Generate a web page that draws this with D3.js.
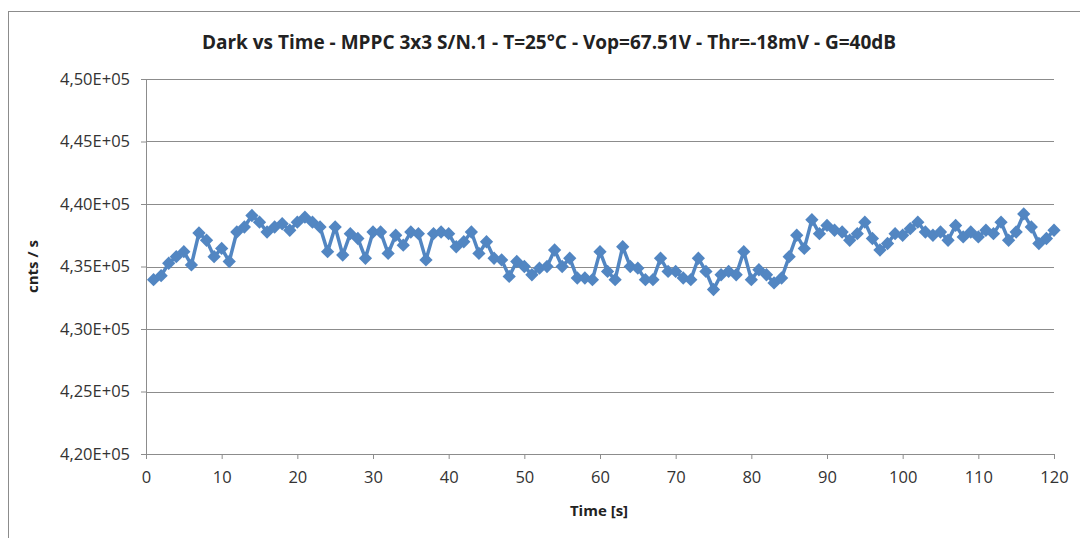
<!DOCTYPE html>
<html>
<head>
<meta charset="utf-8">
<script src="https://cdn.jsdelivr.net/npm/d3@7"></script>
<style>
  body { margin: 0; background: #fff; }
  svg text { font-family: "Open Sans", sans-serif; fill: #222; }
  .title { font-weight: bold; font-size: 19px; }
  .axis-title { font-weight: bold; font-size: 15px; }
  .tick text { font-size: 16.5px; fill: #333; }
</style>
</head>
<body>
<div id="chart"></div>
<script>
var titleText = "Dark vs Time - MPPC 3x3 S/N.1 - T=25°C - Vop=67.51V - Thr=-18mV - G=40dB";
var xLabel = "Time [s]";
var yLabel = "cnts / s";

// time in seconds
var time = d3.range(1, 121);

// dark counts per second
var counts = [
  433950, 434270, 435260, 435790, 436190, 435130, 437680, 437100, 435790, 436450,
  435400, 437760, 438160, 439080, 438550, 437760, 438160, 438420, 437900, 438550,
  438950, 438550, 438160, 436190, 438160, 435920, 437630, 437240, 435660, 437760,
  437760, 436050, 437500, 436710, 437760, 437630, 435530, 437630, 437760, 437630,
  436580, 436980, 437760, 436050, 436980, 435660, 435530, 434210, 435400, 435000,
  434340, 434870, 435000, 436320, 435000, 435660, 434080, 434080, 433950, 436190,
  434610, 433950, 436580, 435000, 434870, 433950, 433950, 435660, 434610, 434610,
  434080, 433950, 435660, 434610, 433160, 434340, 434610, 434340, 436190, 433950,
  434740, 434340, 433690, 434080, 435790, 437500, 436450, 438740, 437630, 438290,
  437900, 437760, 437100, 437630, 438550, 437240, 436320, 436840, 437630, 437500,
  438030, 438550, 437760, 437500, 437760, 437100, 438290, 437370, 437760, 437370,
  437900, 437630, 438550, 437100, 437760, 439210, 438160, 436840, 437240, 437900
];

var yTicks = [420000, 425000, 430000, 435000, 440000, 445000, 450000];
var xTicks = [0, 10, 20, 30, 40, 50, 60, 70, 80, 90, 100, 110, 120];

var W = 1080, H = 538;
var margin = { top: 79, right: 26, bottom: 84, left: 146 };
var width = W - margin.left - margin.right;
var height = H - margin.top - margin.bottom;

var svg = d3.select("#chart").append("svg")
  .attr("width", W)
  .attr("height", H);

// chart frame
svg.append("rect")
  .attr("x", 8.5).attr("y", 11.5)
  .attr("width", W + 10).attr("height", H + 10)
  .attr("fill", "none")
  .attr("stroke", "#8c8c8c");

svg.append("text")
  .attr("class", "title")
  .attr("x", 549).attr("y", 49)
  .attr("text-anchor", "middle")
  .text(titleText);

var g = svg.append("g")
  .attr("transform", "translate(" + margin.left + "," + margin.top + ")");

var x = d3.scaleLinear().domain([0, 120]).range([0, width]);
var y = d3.scaleLinear().domain([420000, 450000]).range([height, 0]);

var fmtY = function(d) {
  return d3.format(".2e")(d).replace(".", ",").replace("e+", "E+0");
};

// gridlines
g.append("g")
  .selectAll("line")
  .data(yTicks.slice(1))
  .enter().append("line")
  .attr("x1", 0).attr("x2", width)
  .attr("y1", function(d) { return Math.round(y(d)) + 0.5; })
  .attr("y2", function(d) { return Math.round(y(d)) + 0.5; })
  .attr("stroke", "#8c8c8c");

var yAxis = g.append("g")
  .call(d3.axisLeft(y).tickValues(yTicks).tickFormat(fmtY).tickSize(5).tickPadding(11));

var xAxis = g.append("g")
  .attr("transform", "translate(0," + height + ")")
  .call(d3.axisBottom(x).tickValues(xTicks).tickSize(5).tickPadding(12));

[yAxis, xAxis].forEach(function(a) {
  a.select(".domain").attr("stroke", "#8c8c8c");
  a.selectAll(".tick line").attr("stroke", "#8c8c8c");
});

// series
var line = d3.line()
  .x(function(d, i) { return x(time[i]); })
  .y(function(d) { return y(d); });

g.append("path")
  .datum(counts)
  .attr("fill", "none")
  .attr("stroke", "#5286c2")
  .attr("stroke-width", 3.5)
  .attr("stroke-linejoin", "round")
  .attr("d", line);

g.append("g")
  .selectAll("path")
  .data(counts)
  .enter().append("path")
  .attr("d", d3.symbol(d3.symbolSquare, 88))
  .attr("transform", function(d, i) {
    return "translate(" + x(time[i]) + "," + y(d) + ") rotate(45)";
  })
  .attr("fill", "#5286c2");

svg.append("text")
  .attr("class", "axis-title")
  .attr("x", 599).attr("y", 516)
  .attr("text-anchor", "middle")
  .text(xLabel);

svg.append("text")
  .attr("class", "axis-title")
  .attr("transform", "translate(38," + (margin.top + height / 2) + ") rotate(-90)")
  .attr("text-anchor", "middle")
  .text(yLabel);
</script>
</body>
</html>
